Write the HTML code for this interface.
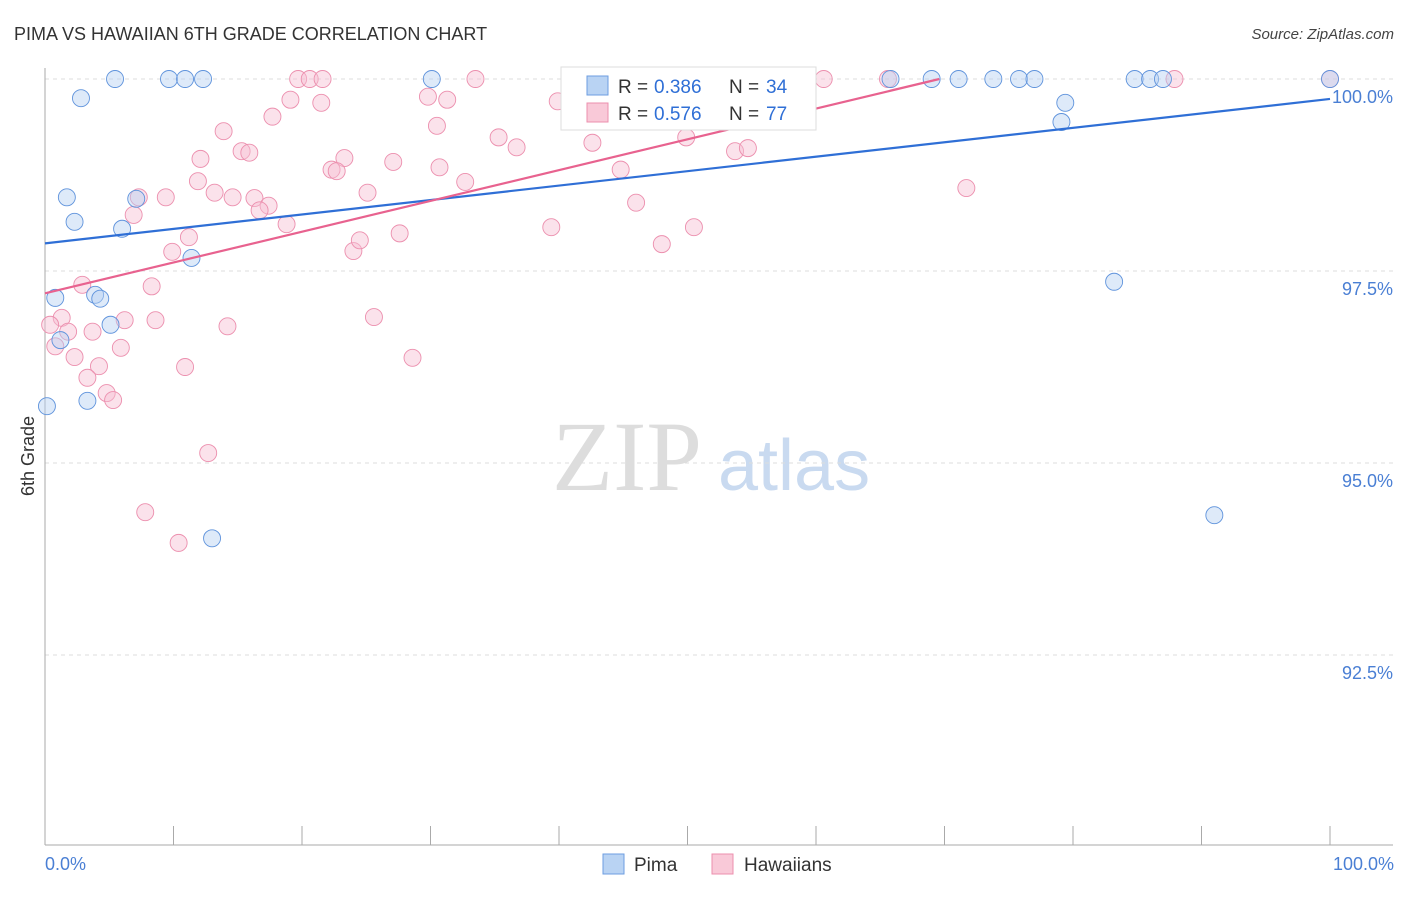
<!DOCTYPE html>
<html><head><meta charset="utf-8"><style>
body{margin:0;background:#fff;font-family:"Liberation Sans",sans-serif}
svg text{font-family:"Liberation Sans",sans-serif}
</style></head><body>
<svg id="chart" width="1406" height="892" viewBox="0 0 1406 892" xmlns="http://www.w3.org/2000/svg">
<text x="14" y="40" font-size="18" fill="#333">PIMA VS HAWAIIAN 6TH GRADE CORRELATION CHART</text>
<text x="1394" y="39" font-size="15" fill="#444" text-anchor="end" font-style="italic">Source: ZipAtlas.com</text>
<g><text x="552" y="490" font-size="100" fill="#ddd" style="font-family:'Liberation Serif',serif">ZIP</text><text x="718" y="490" font-size="72" fill="#c9daf0">atlas</text></g>
<g id="grid"></g>
<g id="axes"></g>
<g id="marks"></g>
<g id="trends"></g>
<text transform="translate(34,456) rotate(-90)" font-size="18" fill="#333" text-anchor="middle">6th Grade</text>
<text x="45" y="870" font-size="18" fill="#4a7fd4">0.0%</text>
<text x="1394" y="870" font-size="18" fill="#4a7fd4" text-anchor="end">100.0%</text>
<g>
<rect x="561" y="67" width="255" height="63" fill="#fff" stroke="#ddd"/>
<rect x="587" y="76" width="21" height="19" fill="#b9d3f3" stroke="#6d9ee0"/>
<text x="618" y="93" font-size="19" fill="#333">R =</text>
<text x="654" y="93" font-size="19" fill="#2f6fd6">0.386</text>
<text x="729" y="93" font-size="19" fill="#333">N =</text>
<text x="766" y="93" font-size="19" fill="#2f6fd6">34</text>
<rect x="587" y="103" width="21" height="19" fill="#f9c9d8" stroke="#ec8fae"/>
<text x="618" y="120" font-size="19" fill="#333">R =</text>
<text x="654" y="120" font-size="19" fill="#2f6fd6">0.576</text>
<text x="729" y="120" font-size="19" fill="#333">N =</text>
<text x="766" y="120" font-size="19" fill="#2f6fd6">77</text>
</g>
<g>
<g><rect x="603" y="854" width="21" height="20" fill="#b9d3f3" stroke="#6d9ee0"/><text x="634" y="871" font-size="19" fill="#333">Pima</text></g>
<g><rect x="712" y="854" width="21" height="20" fill="#f9c9d8" stroke="#ec8fae"/><text x="744" y="871" font-size="19" fill="#333">Hawaiians</text></g>
</g>
</svg>
<script>
const yTicks=[100,97.5,95,92.5];
const yTickLabels=["100.0%","97.5%","95.0%","92.5%"];
const pimaX=[5.45,9.65,10.9,12.3,30.1,65.8,69.0,71.1,73.8,75.8,77.0,84.8,86.0,87.0,100,2.8,79.4,79.1,1.7,2.3,6.0,7.1,11.4,0.8,3.9,4.3,5.1,1.2,3.3,0.15,83.2,13.0,91.0];
const pimaY=[100,100,100,100,100,100,100,100,100,100,100,100,100,100,100,99.75,99.69,99.44,98.46,98.14,98.05,98.44,97.67,97.15,97.19,97.14,96.80,96.60,95.81,95.74,97.36,94.02,94.32];
const hawX=[19.7,20.6,21.6,33.5,48.5,60.6,65.6,87.9,100,19.1,21.5,29.8,31.3,39.9,17.7,13.9,30.5,35.3,36.7,42.6,12.1,15.3,15.9,23.3,22.3,22.7,27.1,30.7,44.8,49.9,53.7,54.7,11.9,13.2,14.6,16.3,17.4,16.7,25.1,32.7,9.4,7.3,6.9,18.8,9.9,11.2,24.0,24.5,27.6,39.4,46.0,48.0,50.5,71.7,2.9,8.3,6.2,8.6,14.2,25.6,1.3,1.8,3.7,0.4,0.8,2.3,5.9,4.2,10.9,28.6,3.3,4.8,5.3,12.7,7.8,10.4];
const hawY=[100,100,100,100,100,100,100,100,100,99.73,99.69,99.77,99.73,99.71,99.51,99.32,99.39,99.24,99.11,99.17,98.96,99.06,99.04,98.97,98.82,98.80,98.92,98.85,98.82,99.24,99.06,99.10,98.67,98.52,98.46,98.45,98.35,98.29,98.52,98.66,98.46,98.46,98.23,98.11,97.75,97.94,97.76,97.90,97.99,98.07,98.39,97.85,98.07,98.58,97.32,97.30,96.86,96.86,96.78,96.90,96.89,96.71,96.71,96.80,96.52,96.38,96.50,96.26,96.25,96.37,96.11,95.91,95.82,95.13,94.36,93.96];
const pimaTrend=[[0,97.86],[100,99.74]];
const hawTrend=[[0,97.21],[69.6,100]];
const X0=45,X1=1330,Y100=79,PXPER=76.8;
const sx=v=>X0+(X1-X0)*v/100;
const sy=v=>Y100+(100-v)*PXPER;
const NS="http://www.w3.org/2000/svg";
function mk(tag,attrs,parent){const e=document.createElementNS(NS,tag);for(const k in attrs)e.setAttribute(k,attrs[k]);parent.appendChild(e);return e;}
const grid=document.getElementById('grid'),axes=document.getElementById('axes'),marks=document.getElementById('marks'),trends=document.getElementById('trends');
yTicks.forEach((t,i)=>{
  const l=mk('line',{x1:45,x2:1393,y1:sy(t),y2:sy(t),stroke:'#ddd','stroke-dasharray':'4,4'},grid);
  
  
  const tx=mk('text',{x:1393,y:sy(t)+24,'font-size':18,fill:'#4a7fd4','text-anchor':'end'},axes);
  tx.textContent=yTickLabels[i];
  
  
});
const ya=mk('line',{x1:45,x2:45,y1:68,y2:845,stroke:'#aaa'},axes);


const xa=mk('line',{x1:45,x2:1393,y1:845,y2:845,stroke:'#aaa'},axes);


for(let i=0;i<=10;i++){
  const t=mk('line',{x1:sx(i*10),x2:sx(i*10),y1:826,y2:845,stroke:'#aaa'},axes);
  
  
}
function pts(xs,ys,fill,stroke,name){
  xs.forEach((x,i)=>{
    const c=mk('circle',{cx:sx(x),cy:sy(ys[i]),r:8.5,fill:fill,'fill-opacity':0.45,stroke:stroke,'stroke-width':0.9},marks);
    
    
  });
}
pts(hawX,hawY,'#f7bfd2','#ec8fae','hawaiian-point');
pts(pimaX,pimaY,'#b6d0f2','#5f93dc','pima-point');
const tp=mk('line',{x1:sx(pimaTrend[0][0]),y1:sy(pimaTrend[0][1]),x2:sx(pimaTrend[1][0]),y2:sy(pimaTrend[1][1]),stroke:'#2f6fd6','stroke-width':2.2},trends);


const th=mk('line',{x1:sx(hawTrend[0][0]),y1:sy(hawTrend[0][1]),x2:sx(hawTrend[1][0]),y2:sy(hawTrend[1][1]),stroke:'#e8628f','stroke-width':2.2},trends);


</script>
</body></html>
